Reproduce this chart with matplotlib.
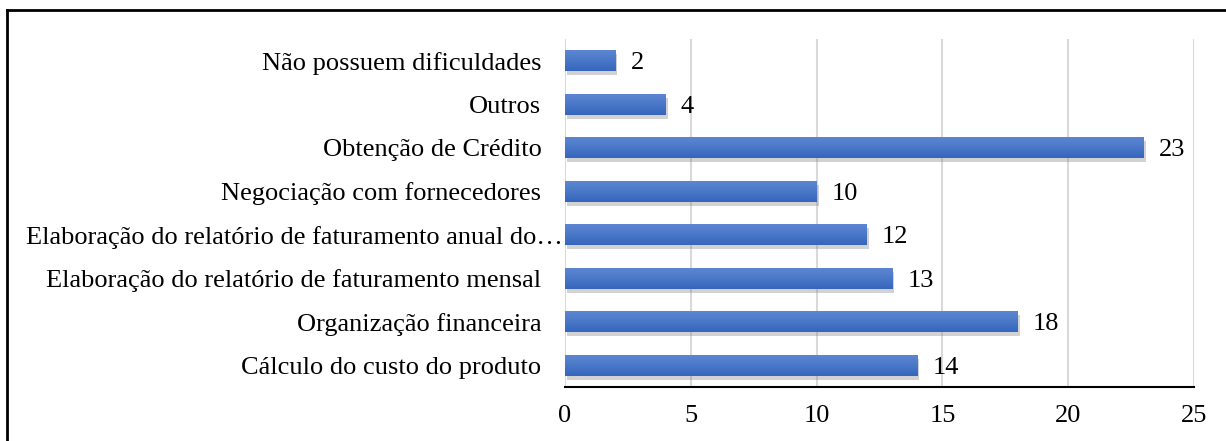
import numpy as np
import matplotlib
matplotlib.use("Agg")
import matplotlib.pyplot as plt
import matplotlib.patheffects as pe
from matplotlib.lines import Line2D
from matplotlib.colors import LinearSegmentedColormap

categorias = [
    "Cálculo do custo do produto",
    "Organização financeira",
    "Elaboração do relatório de faturamento mensal",
    "Elaboração do relatório de faturamento anual do…",
    "Negociação com fornecedores",
    "Obtenção de Crédito",
    "Outros",
    "Não possuem dificuldades",
]
valores = [14, 18, 13, 12, 10, 23, 4, 2]
ticks_x = [0, 5, 10, 15, 20, 25]

plt.rcParams["font.family"] = ["Liberation Serif", "DejaVu Serif"]

fig = plt.figure(figsize=(12.26, 4.41), dpi=100)
ax = fig.add_axes([565 / 1226, 1 - 387 / 441, (1194 - 565) / 1226, (387 - 39) / 441])

y = np.arange(len(categorias))
h = 0.48
barras = ax.barh(y, valores, height=h, color="#4472C4", zorder=3)
for b in barras:
    b.set_path_effects([pe.SimplePatchShadow(offset=(1.5, -3), shadow_rgbFace="#808080", alpha=0.35),
                        pe.Normal()])

# degradê nas barras
degrade = LinearSegmentedColormap.from_list("azul", ["#3565bd", "#4a78c8", "#5d86d2"])
grad = np.linspace(0, 1, 64).reshape(-1, 1)
for yi, v in zip(y, valores):
    ax.imshow(grad, extent=[0, v, yi - h / 2, yi + h / 2], origin="lower", aspect="auto",
              cmap=degrade, zorder=3.5, interpolation="bilinear")

for yi, v in zip(y, valores):
    ax.text(v + 0.6, yi, str(v), va="center_baseline", ha="left", fontsize=19, color="black")

ax.set_xlim(0, 25)
ax.set_ylim(-0.5, len(categorias) - 0.5)
ax.set_xticks(ticks_x)
ax.set_yticks(y)
rotulos = list(categorias)
rotulos[3] = ""
ax.set_yticklabels(rotulos, fontsize=19)
ax.tick_params(axis="x", labelsize=19, length=0, pad=13)
ax.tick_params(axis="y", length=0, pad=17)
# rótulo truncado fica mais à direita, como no original
ax.text(-0.003, 3, categorias[3], ha="right", va="center_baseline", fontsize=19,
        transform=ax.get_yaxis_transform())

ax.xaxis.grid(True, color="#d9d9d9", linewidth=1.5, zorder=0)
for s in ["top", "right", "left"]:
    ax.spines[s].set_visible(False)
ax.spines["bottom"].set_color("black")
ax.spines["bottom"].set_linewidth(1.5)
ax.spines["bottom"].set_zorder(4)

# moldura da figura (so topo e lado esquerdo aparecem)
fig.add_artist(Line2D([7 / 1226, 1], [1 - 10 / 441, 1 - 10 / 441], transform=fig.transFigure,
                      color="black", linewidth=2))
fig.add_artist(Line2D([7 / 1226, 7 / 1226], [0, 1 - 10 / 441], transform=fig.transFigure,
                      color="black", linewidth=2))

plt.savefig("out.png", dpi=100)
